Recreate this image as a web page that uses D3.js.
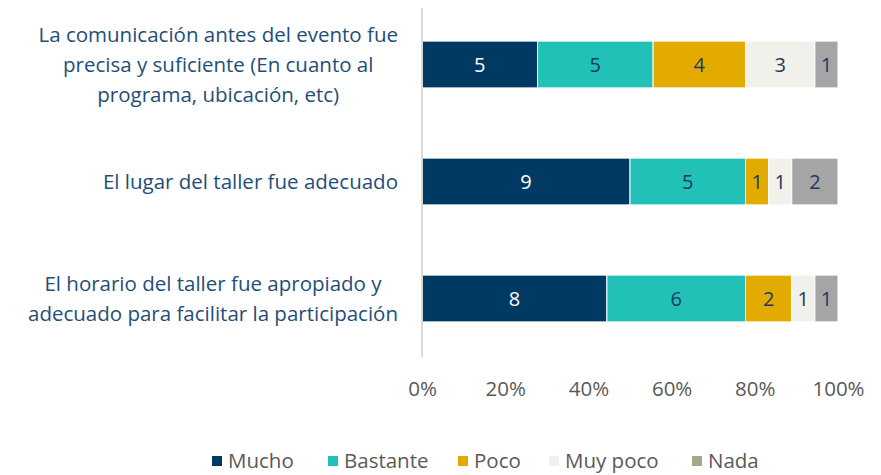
<!DOCTYPE html>
<html>
<head>
<meta charset="utf-8">
<script src="https://cdn.jsdelivr.net/npm/d3@7"></script>
<style>
  body { margin: 0; background: #fff; }
  text { font-family: "Open Sans", "Noto Sans", sans-serif; }
</style>
</head>
<body>
<svg id="chart" width="881" height="475"></svg>
<script>
// data
var categories = [
  ["La comunicación antes del evento fue", "precisa y suficiente (En cuanto al", "programa, ubicación, etc)"],
  ["El lugar del taller fue adecuado"],
  ["El horario del taller fue apropiado y", "adecuado para facilitar la participación"]
];
var seriesNames = ["Mucho", "Bastante", "Poco", "Muy poco", "Nada"];
var mucho    = [5, 9, 8];
var bastante = [5, 5, 6];
var poco     = [4, 1, 2];
var muyPoco  = [3, 1, 1];
var nada     = [1, 2, 1];
var tickLabels = [0, 0.2, 0.4, 0.6, 0.8, 1];

var colors = ["#003a63", "#21c1b8", "#e3ab00", "#f2f0ea", "#a5a5a5"];
var legendColors = ["#003a63", "#21c1b8", "#e3ab00", "#f2f0ea", "#a8a68a"];
var labelColors = ["#ffffff", "#1f3864", "#1f3864", "#1f3864", "#1f3864"];

var svg = d3.select("#chart");
var margin = {left: 422, right: 43, top: 8, bottom: 120};
var width = 881 - margin.left - margin.right;

var x = d3.scaleLinear().domain([0, 1]).range([margin.left, margin.left + width]);
var y = d3.scaleBand().domain(d3.range(categories.length)).range([6, 357]).paddingInner(0.6).paddingOuter(0.3);

// build rows of proportions
var series = [mucho, bastante, poco, muyPoco, nada];
var rows = categories.map(function(c, i){
  var total = d3.sum(series, function(s){ return s[i]; });
  var acc = 0;
  return series.map(function(s, k){
    var seg = {row: i, k: k, v: s[i], x0: acc / total, x1: (acc + s[i]) / total};
    acc += s[i];
    return seg;
  });
});

var segs = svg.append("g").selectAll("g.row")
  .data(rows).enter().append("g");

segs.selectAll("rect")
  .data(function(d){ return d; }).enter().append("rect")
  .attr("x", function(d){ return x(d.x0); })
  .attr("width", function(d){ return x(d.x1) - x(d.x0); })
  .attr("y", function(d){ return y(d.row); })
  .attr("height", y.bandwidth())
  .attr("fill", function(d){ return colors[d.k]; })
  .attr("stroke", "#ffffff")
  .attr("stroke-width", 1);

segs.selectAll("text")
  .data(function(d){ return d; }).enter().append("text")
  .attr("x", function(d){ return (x(d.x0) + x(d.x1)) / 2; })
  .attr("y", function(d){ return y(d.row) + y.bandwidth() / 2; })
  .attr("dy", "0.36em")
  .attr("text-anchor", "middle")
  .attr("font-size", 20)
  .attr("fill", function(d){ return labelColors[d.k]; })
  .text(function(d){ return d.v; });

// y axis line
svg.append("line")
  .attr("x1", margin.left).attr("x2", margin.left)
  .attr("y1", 8).attr("y2", 357)
  .attr("stroke", "#d9d9d9").attr("stroke-width", 2);

// category labels: block right-aligned at 398, lines centred in the block
var lineH = 30;
categories.forEach(function(lines, i){
  var cy = y(i) + y.bandwidth() / 2;
  var t = svg.append("text")
    .attr("text-anchor", "middle")
    .attr("font-size", 20.5)
    .attr("fill", "#1f4e79");
  var spans = lines.map(function(l, j){
    return t.append("tspan")
      .attr("y", cy + (j - (lines.length - 1) / 2) * lineH)
      .attr("dy", "0.36em")
      .text(l);
  });
  var maxW = d3.max(spans, function(s){ return s.node().getComputedTextLength(); });
  spans.forEach(function(s){ s.attr("x", 398 - maxW / 2); });
});

// x axis
var xAxis = d3.axisBottom(x).tickValues(tickLabels).tickFormat(d3.format(".0%")).tickSize(0);
var gx = svg.append("g").attr("transform", "translate(0,378)").call(xAxis);
gx.select(".domain").remove();
gx.selectAll("text").attr("font-size", 20.5).attr("fill", "#595959")
  .style("font-family", "'Open Sans', 'Noto Sans', sans-serif");

// legend
var legendX = [212, 328, 458, 549, 692];
var leg = svg.append("g").selectAll("g")
  .data(seriesNames).enter().append("g")
  .attr("transform", function(d, i){ return "translate(" + legendX[i] + ",461)"; });
leg.append("rect")
  .attr("x", 0).attr("y", -5).attr("width", 10).attr("height", 10)
  .attr("fill", function(d, i){ return legendColors[i]; });
leg.append("text")
  .attr("x", 16).attr("dy", "0.36em")
  .attr("font-size", 20.5).attr("fill", "#595959")
  .text(function(d){ return d; });
</script>
</body>
</html>
